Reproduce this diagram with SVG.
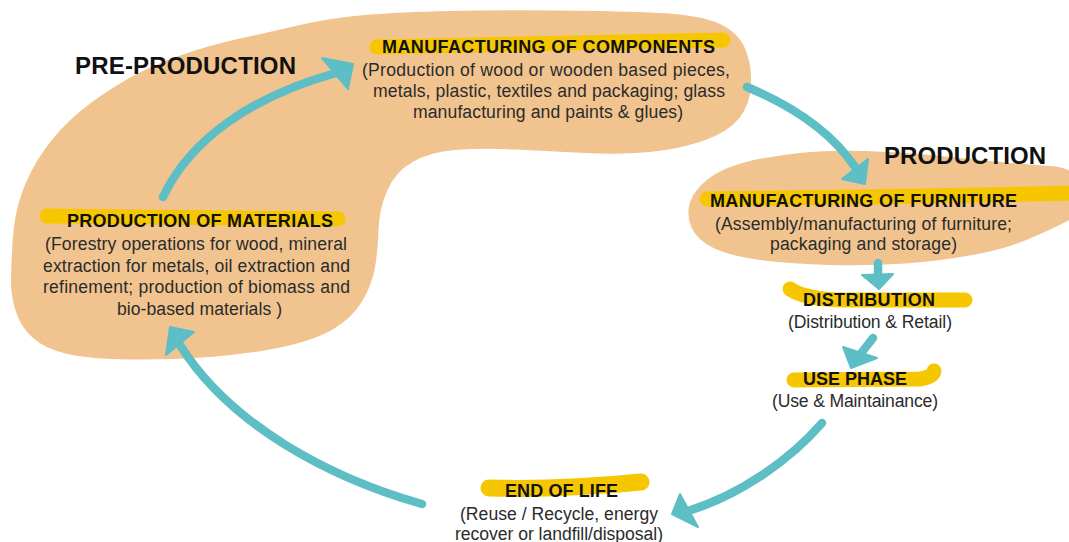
<svg xmlns="http://www.w3.org/2000/svg" width="1069" height="542" viewBox="0 0 1069 542">
  <style>
    .blob { fill: #f1c48f; }
    .hl { fill: none; stroke: #f6c700; stroke-width: 15; stroke-linecap: round; stroke-linejoin: round; }
    .phase { font-family: "Liberation Sans", Arial, sans-serif; font-weight: bold; font-size: 24px; fill: #111; }
    .title { font-family: "Liberation Sans", Arial, sans-serif; font-weight: bold; font-size: 18px; fill: #111; text-anchor: middle; }
    .body { font-family: "Liberation Sans", Arial, sans-serif; font-size: 17.6px; fill: #2b2b2b; text-anchor: middle; }
    .stem { fill: none; stroke: #5dbec5; stroke-width: 8.5; stroke-linecap: round; }
    .head { fill: #5dbec5; stroke: #5dbec5; stroke-width: 2; stroke-linejoin: round; }
  </style>

  <rect width="1069" height="542" fill="#ffffff"/>

  <!-- background shapes for the two stages -->
  <g id="blobs">
    <path id="blob-pre-production" class="blob" d="M11,282.5 Q11,270 12.5,242.5 Q14,215 22,192.5 Q30,170 45,149 Q60,128 80,111.5 Q100,95 125,80.5 Q150,66 180,55.5 Q210,45 240,38.5 Q270,32 300,25 Q330,18 365,15 Q400,12 450,11 Q500,10 560,10.5 Q620,11 660,13 Q700,15 719,23.5 Q738,32 745,48.5 Q752,65 751,85 Q750,105 739,118.5 Q728,132 704,140.5 Q680,149 650,152 Q620,155 585,153 Q550,151 515,149.5 Q480,148 455,150 Q430,152 412.5,162 Q395,172 387,191 Q379,210 378.5,230 Q378,250 375,267.5 Q372,285 362,301.5 Q352,318 333.5,329 Q315,340 282.5,347 Q250,354 210,357 Q170,360 130,359.5 Q90,359 67.5,354 Q45,349 32.5,337.5 Q20,326 15.5,310.5 Q11,295 11,282.5 Z"/>
    <path id="blob-production" class="blob" d="M691.5,227.5 Q686,215 690,202.5 Q694,190 708,179 Q722,168 746,162 Q770,156 800,153 Q830,150 865,151 Q900,152 930,155 Q960,158 990,161 Q1020,164 1050,166 Q1080,168 1082.5,190 Q1085,212 1067.5,221 Q1050,230 1027.5,239.5 Q1005,249 972.5,255 Q940,261 905,263.5 Q870,266 830,265 Q790,264 760,260 Q730,256 713.5,248 Q697,240 691.5,227.5 Z"/>
  </g>

  <!-- stage labels -->
  <g id="label-pre-production">
    <text class="phase" x="75" y="74" textLength="221">PRE-PRODUCTION</text>
  </g>
  <g id="label-production">
    <text class="phase" x="884" y="164" textLength="162">PRODUCTION</text>
  </g>

  <g id="node-components">
    <path class="hl" d="M377,47 Q550,44 723,40"/>
    <text class="title" x="548.5" y="53" textLength="333">MANUFACTURING OF COMPONENTS</text>
    <text class="body" x="546" y="76" textLength="368">(Production of wood or wooden based pieces,</text>
    <text class="body" x="549" y="97" textLength="352">metals, plastic, textiles and packaging; glass</text>
    <text class="body" x="548" y="118" textLength="270">manufacturing and paints &amp; glues)</text>
  </g>

  <g id="node-materials">
    <path class="hl" d="M47,216 Q190,217 338,219"/>
    <text class="title" x="200" y="227" textLength="266">PRODUCTION OF MATERIALS</text>
    <text class="body" x="196" y="250" textLength="302">(Forestry operations for wood, mineral</text>
    <text class="body" x="196.5" y="272" textLength="307">extraction for metals, oil extraction and</text>
    <text class="body" x="196.5" y="293" textLength="307">refinement; production of biomass and</text>
    <text class="body" x="199.5" y="315" textLength="165">bio-based materials )</text>
  </g>

  <g id="node-furniture">
    <path class="hl" d="M707,199 Q890,197 1075,193"/>
    <text class="title" x="863.5" y="207" textLength="307">MANUFACTURING OF FURNITURE</text>
    <text class="body" x="863.5" y="230" textLength="297">(Assembly/manufacturing of furniture;</text>
    <text class="body" x="863.5" y="250" textLength="187">packaging and storage)</text>
  </g>

  <g id="node-distribution">
    <path class="hl" d="M790,289 Q805,299 840,300 L965,300"/>
    <text class="title" x="869" y="306" textLength="132">DISTRIBUTION</text>
    <text class="body" x="870" y="328" textLength="164">(Distribution &amp; Retail)</text>
  </g>

  <g id="node-use-phase">
    <path class="hl" d="M794,380 L920,379 Q933,377 934,371"/>
    <text class="title" x="855" y="385" textLength="104">USE PHASE</text>
    <text class="body" x="855" y="407" textLength="166">(Use &amp; Maintainance)</text>
  </g>

  <g id="node-end-of-life">
    <path class="hl" d="M489,488 Q560,490 641,482" style="stroke-width:17"/>
    <text class="title" x="561.5" y="497" textLength="113">END OF LIFE</text>
    <text class="body" x="559" y="520" textLength="198">(Reuse / Recycle, energy</text>
    <text class="body" x="559" y="540" textLength="208">recover or landfill/disposal)</text>
  </g>

  <!-- connectors: life-cycle flow -->
  <g id="connectors">
    <g id="materials-to-components">
      <path class="stem" d="M163,197 C190,140 250,97 336,73"/>
      <polygon class="head" points="322,58 353,64 348,89"/>
    </g>
    <g id="components-to-furniture">
      <path class="stem" d="M747,87 C790,105 830,130 855,167"/>
      <polygon class="head" points="842,179 868,159 865,184"/>
    </g>
    <g id="furniture-to-distribution">
      <path class="stem" d="M878,263 L878,278"/>
      <polygon class="head" points="862,275 893,274 879,289"/>
    </g>
    <g id="distribution-to-use">
      <path class="stem" d="M873,338 L859,356"/>
      <polygon class="head" points="843,347 877,358 851,368"/>
    </g>
    <g id="use-to-end-of-life">
      <path class="stem" d="M822,423 C790,460 740,495 688,511"/>
      <polygon class="head" points="680,494 698,527 672,514"/>
    </g>
    <g id="end-of-life-to-materials">
      <path class="stem" d="M422,504 C330,478 230,425 180,345"/>
      <polygon class="head" points="166,355 194,332 170,327"/>
    </g>
  </g>
</svg>
